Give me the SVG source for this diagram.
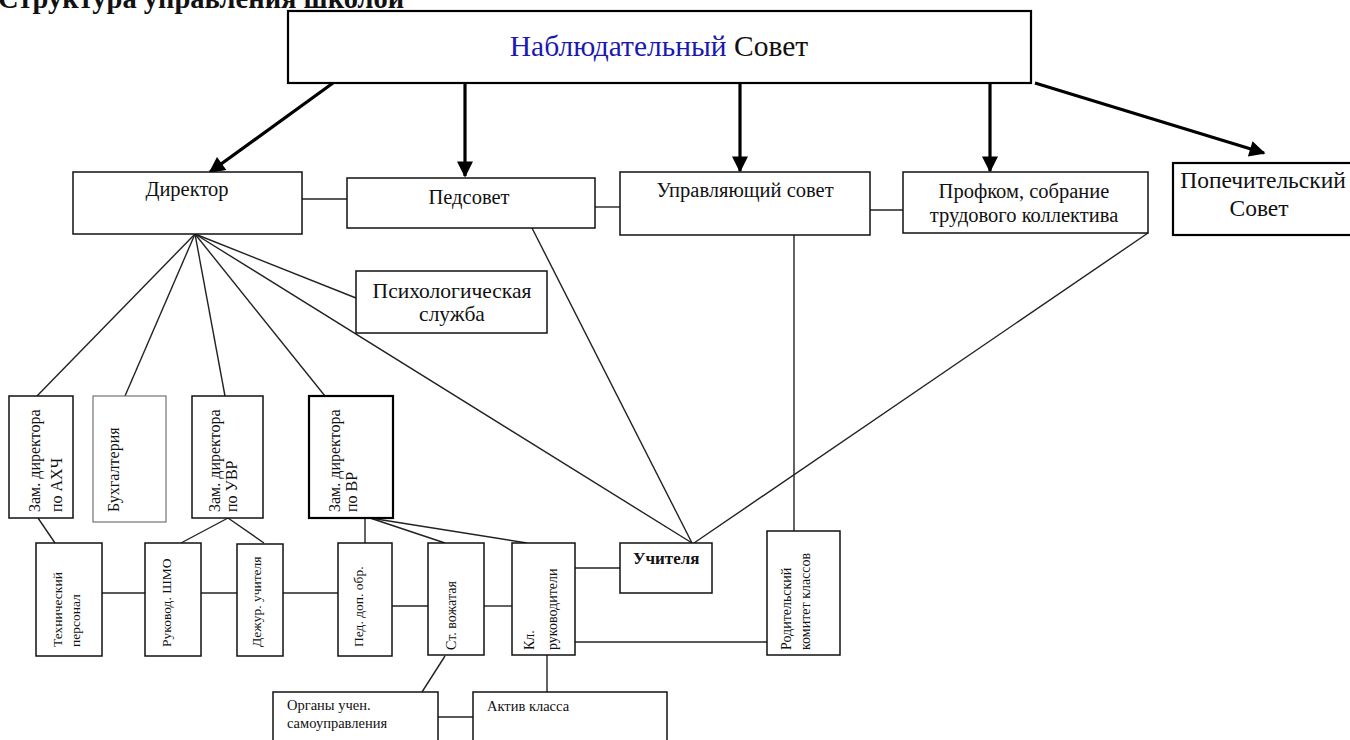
<svg xmlns="http://www.w3.org/2000/svg" width="1350" height="740" viewBox="0 0 1350 740">
<style>
text{font-family:"Liberation Serif","Times New Roman",serif;fill:#111}
.box{fill:#fff;stroke:#111;stroke-width:1.5}
.thick{fill:#fff;stroke:#000;stroke-width:2.2}
.ln{stroke:#222;stroke-width:1.4;fill:none}
.arr{stroke:#000;stroke-width:3.2;fill:none;marker-end:url(#ah)}
.t20{font-size:20.5px}
.v16{font-size:16px}
.v13{font-size:13.5px}
.v14{font-size:14px}
.s14{font-size:14.5px}
</style>
<defs>
<marker id="ah" viewBox="0 0 10 10" refX="9" refY="5" markerWidth="6" markerHeight="5" markerUnits="strokeWidth" orient="auto">
<path d="M0,0 L10,5 L0,10 Z" fill="#000"/>
</marker>
</defs>
<rect width="1350" height="740" fill="#fff"/>
<text x="-2" y="8" font-size="28.5" font-weight="bold" fill="#000">Структура управления школой</text>

<g id="connectors">
<line class="arr" x1="333" y1="83" x2="210" y2="172"/>
<line class="arr" x1="465" y1="83" x2="465" y2="176"/>
<line class="arr" x1="740" y1="83" x2="740" y2="171"/>
<line class="arr" x1="990" y1="83" x2="990" y2="171"/>
<line class="arr" x1="1035" y1="83" x2="1264" y2="153"/>
<line class="ln" x1="302" y1="199" x2="347" y2="199"/>
<line class="ln" x1="595" y1="207" x2="620" y2="207"/>
<line class="ln" x1="870" y1="210" x2="903" y2="210"/>
<line class="ln" x1="195" y1="234" x2="37" y2="396"/>
<line class="ln" x1="195" y1="234" x2="125" y2="396"/>
<line class="ln" x1="195" y1="234" x2="225" y2="396"/>
<line class="ln" x1="195" y1="234" x2="325" y2="396"/>
<line class="ln" x1="195" y1="234" x2="356" y2="298"/>
<line class="ln" x1="195" y1="234" x2="692" y2="543"/>
<line class="ln" x1="532" y1="228" x2="692" y2="543"/>
<line class="ln" x1="1148" y1="233" x2="694" y2="543"/>
<line class="ln" x1="794" y1="235" x2="794" y2="531"/>
<line class="ln" x1="38" y1="518" x2="55" y2="543"/>
<line class="ln" x1="228" y1="518" x2="181" y2="543"/>
<line class="ln" x1="228" y1="518" x2="264" y2="543"/>
<line class="ln" x1="365" y1="518" x2="365" y2="543"/>
<line class="ln" x1="370" y1="518" x2="445" y2="543"/>
<line class="ln" x1="370" y1="518" x2="527" y2="543"/>
<line class="ln" x1="102" y1="593" x2="145" y2="593"/>
<line class="ln" x1="201" y1="593" x2="237" y2="593"/>
<line class="ln" x1="283" y1="593" x2="338" y2="593"/>
<line class="ln" x1="392" y1="606" x2="428" y2="606"/>
<line class="ln" x1="484" y1="606" x2="512" y2="606"/>
<line class="ln" x1="575" y1="568" x2="620" y2="568"/>
<line class="ln" x1="575" y1="642" x2="767" y2="642"/>
<line class="ln" x1="445" y1="656" x2="422" y2="692"/>
<line class="ln" x1="547" y1="655" x2="547" y2="692"/>
<line class="ln" x1="438" y1="717" x2="473" y2="717"/>
</g>

<g id="n-nabl">
<rect class="thick" x="288" y="11" width="743" height="72"/>
<text x="659" y="56" font-size="29.5" text-anchor="middle"><tspan fill="#1a1ab0">Наблюдательный</tspan> Совет</text>
</g>
<g id="n-director">
<rect class="box" x="73" y="172" width="229" height="62"/>
<text class="t20" x="187" y="196" text-anchor="middle">Директор</text>
</g>
<g id="n-pedsovet">
<rect class="box" x="347" y="178" width="248" height="50"/>
<text class="t20" x="469" y="204" text-anchor="middle">Педсовет</text>
</g>
<g id="n-upr">
<rect class="box" x="620" y="172" width="250" height="63"/>
<text class="t20" x="745" y="197" text-anchor="middle">Управляющий совет</text>
</g>
<g id="n-profkom">
<rect class="box" x="903" y="172" width="245" height="61"/>
<text class="t20" x="1024" y="198" text-anchor="middle">Профком, собрание</text>
<text class="t20" x="1024" y="222" text-anchor="middle">трудового коллектива</text>
</g>
<g id="n-popech">
<rect class="thick" x="1173" y="163" width="190" height="72"/>
<text x="1263" y="188" font-size="23.5" text-anchor="middle">Попечительский</text>
<text x="1259" y="216" font-size="23.5" text-anchor="middle">Совет</text>
</g>
<g id="n-psych">
<rect class="box" x="356" y="271" width="191" height="62"/>
<text x="452" y="298" font-size="21.5" text-anchor="middle">Психологическая</text>
<text x="452" y="321" font-size="21.5" text-anchor="middle">служба</text>
</g>

<g id="n-zam-ahch">
<rect class="box" x="9" y="396" width="64" height="122"/>
<text class="v16" transform="translate(40,512) rotate(-90)">Зам. директора</text>
<text class="v16" transform="translate(62,512) rotate(-90)">по АХЧ</text>
</g>
<g id="n-buh">
<rect x="93" y="396" width="73" height="126" fill="#fff" stroke="#666" stroke-width="1.1"/>
<text class="v16" transform="translate(119,512) rotate(-90)">Бухгалтерия</text>
</g>
<g id="n-zam-uvr">
<rect class="box" x="192" y="396" width="71" height="122"/>
<text class="v16" transform="translate(220,512) rotate(-90)">Зам. директора</text>
<text class="v16" transform="translate(237,512) rotate(-90)">по УВР</text>
</g>
<g id="n-zam-vr">
<rect class="thick" x="309" y="396" width="84" height="122"/>
<text class="v16" transform="translate(340,512) rotate(-90)">Зам. директора</text>
<text class="v16" transform="translate(357,512) rotate(-90)">по ВР</text>
</g>

<g id="n-tech">
<rect class="box" x="36" y="543" width="66" height="113"/>
<text class="v13" transform="translate(62,647) rotate(-90)">Технический</text>
<text class="v13" transform="translate(80,647) rotate(-90)">персонал</text>
</g>
<g id="n-shmo">
<rect class="box" x="145" y="543" width="56" height="113"/>
<text class="v13" transform="translate(171,647) rotate(-90)">Руковод. ШМО</text>
</g>
<g id="n-dezhur">
<rect class="box" x="237" y="544" width="46" height="112"/>
<text class="v13" transform="translate(261,647) rotate(-90)">Дежур. учителя</text>
</g>
<g id="n-ped-dop">
<rect class="box" x="338" y="543" width="54" height="113"/>
<text class="v13" transform="translate(363,647) rotate(-90)">Пед. доп. обр.</text>
</g>
<g id="n-vozh">
<rect class="box" x="428" y="543" width="56" height="112"/>
<text class="v14" transform="translate(456,650) rotate(-90)">Ст. вожатая</text>
</g>
<g id="n-kl">
<rect class="box" x="512" y="543" width="63" height="112"/>
<text class="v14" transform="translate(534,650) rotate(-90)">Кл.</text>
<text class="v14" transform="translate(557,650) rotate(-90)">руководители</text>
</g>
<g id="n-uchitelya">
<rect class="box" x="620" y="543" width="92" height="50"/>
<text x="633" y="564" font-size="17" font-weight="bold">Учителя</text>
</g>
<g id="n-rodit">
<rect class="box" x="767" y="531" width="73" height="124"/>
<text class="v14" transform="translate(791,650) rotate(-90)">Родительский</text>
<text class="v14" transform="translate(810,650) rotate(-90)">комитет классов</text>
</g>
<g id="n-organy">
<rect class="box" x="273" y="692" width="165" height="60"/>
<text class="s14" x="287" y="710">Органы  учен.</text>
<text class="s14" x="287" y="728">самоуправления</text>
</g>
<g id="n-aktiv">
<rect class="box" x="473" y="692" width="194" height="60"/>
<text class="s14" x="487" y="711" font-size="15">Актив класса</text>
</g>
</svg>
